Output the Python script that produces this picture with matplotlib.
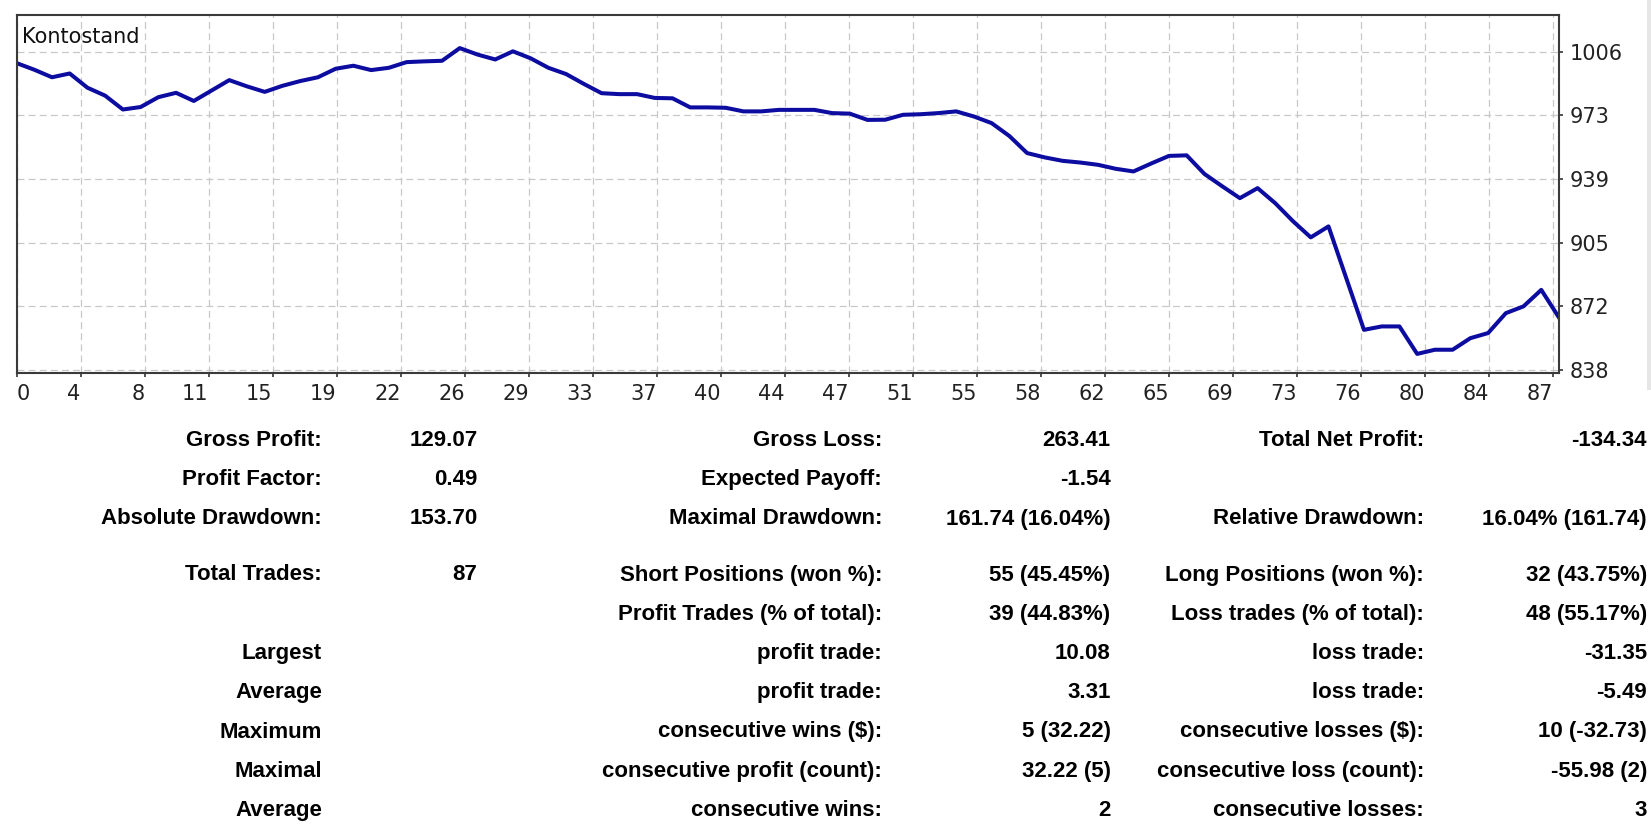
import numpy as np
import matplotlib
matplotlib.use("Agg")
import matplotlib.pyplot as plt
from matplotlib.patches import Rectangle

# balance after each trade (trade 0 = deposit)
balance = [1000.0, 996.5, 992.5, 994.5, 987.0, 982.8, 975.5, 976.8, 982.0, 984.3,
           980.0, 985.5, 991.0, 987.7, 984.8, 988.0, 990.5, 992.5, 997.0, 998.6,
           996.3, 997.5, 1000.5, 1000.9, 1001.2, 1007.9, 1004.5, 1001.9, 1006.2, 1002.5,
           997.5, 994.2, 989.0, 984.1, 983.6, 983.6, 981.6, 981.4, 976.6, 976.6,
           976.4, 974.5, 974.5, 975.3, 975.3, 975.3, 973.6, 973.3, 970.0, 970.1,
           972.7, 973.0, 973.6, 974.5, 971.8, 968.3, 961.5, 952.5, 950.2, 948.4,
           947.5, 946.3, 944.2, 942.8, 947.0, 951.0, 951.3, 941.5, 935.0, 928.7,
           934.0, 926.0, 916.5, 908.0, 913.8, 886.5, 859.2, 861.0, 861.0, 846.5,
           848.7, 848.7, 854.8, 857.5, 868.0, 871.6, 880.3, 865.66]
trades = np.arange(len(balance))

xtick_labels = ['0', '4', '8', '11', '15', '19', '22', '26', '29', '33', '37', '40', '44',
                '47', '51', '55', '58', '62', '65', '69', '73', '76', '80', '84', '87']
ytick_labels = ['838', '872', '905', '939', '973', '1006']

# report table: (label, value) for the three column pairs
col1 = [("Gross Profit:", "129.07"), ("Profit Factor:", "0.49"), ("Absolute Drawdown:", "153.70"),
        ("Total Trades:", "87"), ("", ""), ("Largest", ""), ("Average", ""),
        ("Maximum", ""), ("Maximal", ""), ("Average", "")]
col2 = [("Gross Loss:", "263.41"), ("Expected Payoff:", "-1.54"),
        ("Maximal Drawdown:", "161.74 (16.04%)"), ("Short Positions (won %):", "55 (45.45%)"),
        ("Profit Trades (% of total):", "39 (44.83%)"), ("profit trade:", "10.08"),
        ("profit trade:", "3.31"), ("consecutive wins ($):", "5 (32.22)"),
        ("consecutive profit (count):", "32.22 (5)"), ("consecutive wins:", "2")]
col3 = [("Total Net Profit:", "-134.34"), ("", ""), ("Relative Drawdown:", "16.04% (161.74)"),
        ("Long Positions (won %):", "32 (43.75%)"), ("Loss trades (% of total):", "48 (55.17%)"),
        ("loss trade:", "-31.35"), ("loss trade:", "-5.49"),
        ("consecutive losses ($):", "10 (-32.73)"), ("consecutive loss (count):", "-55.98 (2)"),
        ("consecutive losses:", "3")]

W, H = 1651, 824
plt.rcParams['lines.scale_dashes'] = False
fig = plt.figure(figsize=(W/100, H/100), dpi=100)
fig.patch.set_facecolor('white')

# chart box in pixels
L, R, T, B = 16.5, 1559, 15, 373
ax = fig.add_axes([L/W, 1-B/H, (R-L)/W, (B-T)/H])
ax.plot(trades, balance, color='#0c0ca0', lw=2.9, solid_joinstyle='round')

ax.set_xlim(0, len(balance)-1)
ax.set_ylim(836.42, 1025.37)
step = (len(balance)-1) * 64.03 / (R-L)
ax.set_xticks(np.arange(len(xtick_labels))*step)
ax.set_xticklabels(xtick_labels)
ax.set_yticks(np.linspace(838, 1006, len(ytick_labels)))
ax.set_yticklabels(ytick_labels)
ax.yaxis.tick_right()
ax.tick_params(axis='x', direction='out', length=3, width=1.2, color='#333333', pad=5,
               labelsize=15, labelcolor='#222222')
ax.tick_params(axis='y', direction='out', length=3, width=1.2, color='#333333', pad=4.5,
               labelsize=15, labelcolor='#222222')
for i, lab in enumerate(ax.get_xticklabels()):
    lab.set_horizontalalignment('left' if i == 0 else 'right')
ax.grid(True, color='#c8c8c8', lw=0.9, dashes=(5, 3))
ax.set_axisbelow(True)
for s in ax.spines.values():
    s.set_color('#3a3a3a')
    s.set_linewidth(1.5)

fig.text(22/W, 1-43/H, "Kontostand", fontsize=15, color='#111111', va='baseline', ha='left')

# thin grey strip at the right edge
fig.patches.append(Rectangle((1647/W, 1-390/H), 4/W, 390/H, transform=fig.transFigure,
                             facecolor='#e6e6e6', edgecolor='none'))

rows_y = [446, 485.3, 524.5, 580.5, 619.7, 659, 698.3, 737.5, 776.8, 816]
col_x = [(322, 477.5), (882, 1110.5), (1424, 1647)]
tfont = dict(family='Liberation Sans', weight='bold', fontsize=16, color='black',
             va='baseline', ha='right')
for (xl, xv), col in zip(col_x, [col1, col2, col3]):
    for y, (lab, val) in zip(rows_y, col):
        if lab:
            fig.text(xl/W, 1-y/H, lab, **tfont)
        if val:
            fig.text(xv/W, 1-y/H, val, **tfont)

fig.savefig("out.png", dpi=100, facecolor='white')
